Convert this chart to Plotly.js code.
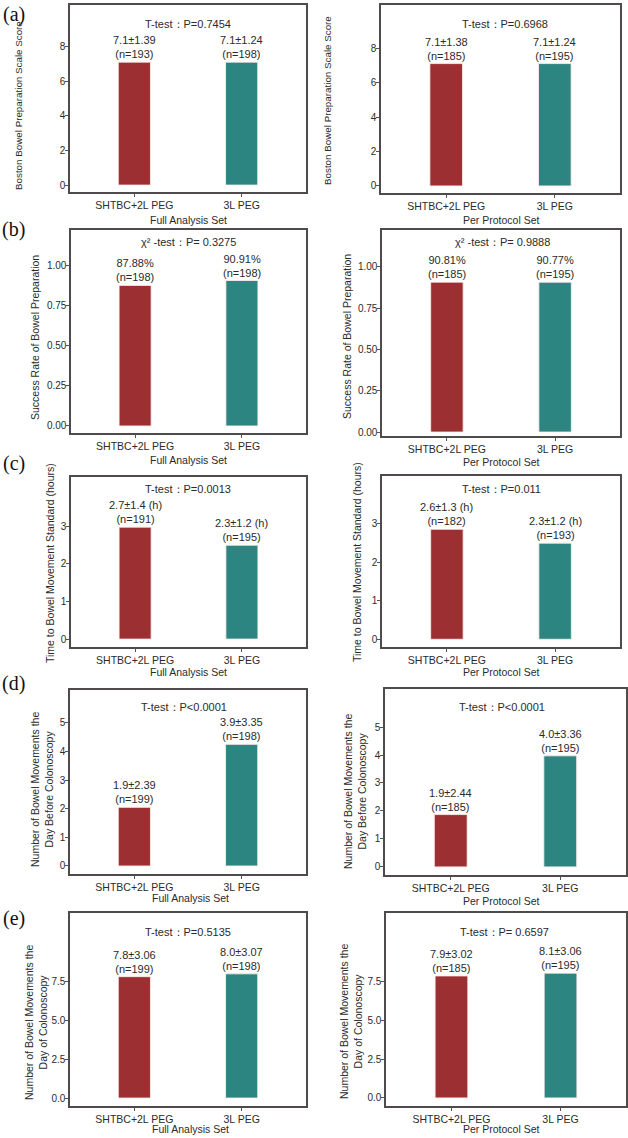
<!DOCTYPE html>
<html>
<head>
<meta charset="utf-8">
<script src="https://cdn.plot.ly/plotly-3.0.1.min.js"></script>
<style>html,body{margin:0;padding:0;background:#fff;}#chart{width:628px;height:1138px;}</style>
</head>
<body>
<div id="chart"></div>
<script>
// ---- data ----
const categories = ['SHTBC+2L PEG', '3L PEG'];

const bbpsFAS = [7.1, 7.1];
const bbpsPPS = [7.1, 7.1];
const bbpsFASLabels = ['7.1±1.39', '7.1±1.24'];
const bbpsPPSLabels = ['7.1±1.38', '7.1±1.24'];
const bbpsFASN = ['(n=193)', '(n=198)'];
const bbpsPPSN = ['(n=185)', '(n=195)'];

const successFAS = [0.8788, 0.9091];
const successPPS = [0.9081, 0.9077];
const successFASLabels = ['87.88%', '90.91%'];
const successPPSLabels = ['90.81%', '90.77%'];
const successFASN = ['(n=198)', '(n=198)'];
const successPPSN = ['(n=185)', '(n=195)'];

const timeFAS = [2.97, 2.49];
const timePPS = [2.85, 2.49];
const timeFASLabels = ['2.7±1.4 (h)', '2.3±1.2 (h)'];
const timePPSLabels = ['2.6±1.3 (h)', '2.3±1.2 (h)'];
const timeFASN = ['(n=191)', '(n=195)'];
const timePPSN = ['(n=182)', '(n=193)'];

const beforeFAS = [2.05, 4.25];
const beforePPS = [1.87, 3.97];
const beforeFASLabels = ['1.9±2.39', '3.9±3.35'];
const beforePPSLabels = ['1.9±2.44', '4.0±3.36'];
const beforeFASN = ['(n=199)', '(n=198)'];
const beforePPSN = ['(n=185)', '(n=195)'];

const dayFAS = [7.78, 7.96];
const dayPPS = [7.85, 8.03];
const dayFASLabels = ['7.8±3.06', '8.0±3.07'];
const dayPPSLabels = ['7.9±3.02', '8.1±3.06'];
const dayFASN = ['(n=199)', '(n=198)'];
const dayPPSN = ['(n=185)', '(n=195)'];

const testTexts = ['T-test：P=0.7454', 'T-test：P=0.6968', 'χ² -test：P= 0.3275', 'χ² -test：P= 0.9888',
  'T-test：P=0.0013', 'T-test：P=0.011', 'T-test：P&lt;0.0001', 'T-test：P&lt;0.0001',
  'T-test：P=0.5135', 'T-test：P= 0.6597'];
const setNames = ['Full Analysis Set', 'Per Protocol Set'];
const yTitles = ['Boston Bowel Preparation Scale Score', 'Success Rate of Bowel Preparation',
  'Time to Bowel Movement Standard (hours)', 'Number of Bowel Movements the<br>Day Before Colonoscopy',
  'Number of Bowel Movements the<br>Day of Colonoscopy'];
const yTitleSizes = [9.8, 10.5, 10.5, 10.5, 10.5];
const panelLetters = ['(a)', '(b)', '(c)', '(d)', '(e)'];
const yTickVals = [[0, 2, 4, 6, 8], [0, 0.25, 0.5, 0.75, 1], [0, 1, 2, 3], [0, 1, 2, 3, 4, 5], [0, 2.5, 5, 7.5]];
const yTickText = [['0', '2', '4', '6', '8'], ['0.00', '0.25', '0.50', '0.75', '1.00'], ['0', '1', '2', '3'],
  ['0', '1', '2', '3', '4', '5'], ['0.0', '2.5', '5.0', '7.5']];

// ---- layout geometry (pixels) ----
const W = 628, H = 1138;
const panels = [
  {v: bbpsFAS, l: bbpsFASLabels, n: bbpsFASN, row: 0, col: 0, box: [70, 306, 5, 192], yr: [-0.4, 10.4], yt: [18, 106], test: [188, 24], xt: [188, 220]},
  {v: bbpsPPS, l: bbpsPPSLabels, n: bbpsPPSN, row: 0, col: 1, box: [381, 620, 5, 193], yr: [-0.41, 10.5], yt: [328, 101], test: [505, 24], xt: [501, 220]},
  {v: successFAS, l: successFASLabels, n: successFASN, row: 1, col: 0, box: [71, 306, 230, 433], yr: [-0.044, 1.225], yt: [35, 338], test: [188, 242], xt: [188, 460]},
  {v: successPPS, l: successPPSLabels, n: successPPSN, row: 1, col: 1, box: [382, 620, 230, 436], yr: [-0.024, 1.224], yt: [347, 337], test: [502, 242], xt: [501, 462]},
  {v: timeFAS, l: timeFASLabels, n: timeFASN, row: 2, col: 0, box: [71, 306, 477, 647], yr: [-0.21, 4.3], yt: [50, 563], test: [188, 489], xt: [188, 672]},
  {v: timePPS, l: timePPSLabels, n: timePPSN, row: 2, col: 1, box: [382, 620, 476, 647], yr: [-0.2, 4.23], yt: [357, 562], test: [501, 489], xt: [501, 672]},
  {v: beforeFAS, l: beforeFASLabels, n: beforeFASN, row: 3, col: 0, box: [70, 306, 690, 874], yr: [-0.28, 6.15], yt: [42, 790], test: [184, 707], xt: [190, 898]},
  {v: beforePPS, l: beforePPSLabels, n: beforePPSN, row: 3, col: 1, box: [385, 626, 689, 875], yr: [-0.29, 6.36], yt: [355, 792], test: [502, 707], xt: [501, 901]},
  {v: dayFAS, l: dayFASLabels, n: dayFASN, row: 4, col: 0, box: [70, 306, 913, 1106], yr: [-0.51, 11.86], yt: [36, 1023], test: [188, 932], xt: [190, 1129]},
  {v: dayPPS, l: dayPPSLabels, n: dayPPSN, row: 4, col: 1, box: [386, 626, 913, 1106], yr: [-0.52, 11.9], yt: [351, 1022], test: [504, 932], xt: [501, 1129]}
];
const letterPos = [[14, 15], [14, 230], [14, 463], [14, 683], [14, 918]];

const barColors = ['#9b2f32', '#2d8582'];
const boxColor = '#4f4b4b';
const textColor = '#2b2b2b';
const FONT = 'Liberation Sans, Arial, sans-serif';

const data = [];
const layout = {
  width: W, height: H,
  margin: {l: 0, r: 0, t: 0, b: 0},
  paper_bgcolor: '#fff', plot_bgcolor: '#fff',
  showlegend: false,
  font: {family: FONT, size: 11, color: textColor},
  annotations: []
};

function px(x) { return x / W; }
function py(y) { return 1 - y / H; }

panels.forEach((p, i) => {
  const k = i + 1;
  const xa = 'x' + (k === 1 ? '' : k);
  const ya = 'y' + (k === 1 ? '' : k);
  data.push({
    type: 'bar', x: categories, y: p.v, xaxis: xa, yaxis: ya, width: 0.3,
    marker: {color: barColors, line: {color: 'rgba(255,235,235,0.85)', width: 1}},
    hoverinfo: 'none'
  });
  const [L, R, T, B] = p.box;
  layout['xaxis' + (k === 1 ? '' : k)] = {
    domain: [px(L), px(R)], anchor: ya, type: 'category', range: [-0.6, 1.6],
    showline: true, mirror: true, linecolor: boxColor, linewidth: 1.6,
    ticks: 'outside', ticklen: 3, tickcolor: '#555', tickwidth: 1,
    showgrid: false, zeroline: false, fixedrange: true,
    tickfont: {size: 10.5, color: textColor, family: FONT}
  };
  layout['yaxis' + (k === 1 ? '' : k)] = {
    domain: [py(B), py(T)], anchor: xa, range: p.yr,
    tickvals: yTickVals[p.row], ticktext: yTickText[p.row],
    showline: true, mirror: true, linecolor: boxColor, linewidth: 1.6,
    ticks: 'outside', ticklen: 3, tickcolor: '#555', tickwidth: 1,
    ticklabelstandoff: -2,
    showgrid: false, zeroline: false, fixedrange: true,
    tickfont: {size: 10, color: textColor, family: FONT}
  };
  categories.forEach((c, j) => {
    layout.annotations.push({
      xref: xa, yref: ya, x: c, y: p.v[j], yanchor: 'bottom', xanchor: 'center',
      text: p.l[j] + '<br>' + p.n[j], showarrow: false, yshift: 0,
      font: {size: 11, color: textColor, family: FONT}
    });
  });
  layout.annotations.push({
    xref: 'paper', yref: 'paper', x: px(p.test[0]), y: py(p.test[1]), xanchor: 'center', yanchor: 'middle',
    text: testTexts[i], showarrow: false, font: {size: 11, color: textColor, family: FONT}
  });
  layout.annotations.push({
    xref: 'paper', yref: 'paper', x: px(p.yt[0]), y: py(p.yt[1]), xanchor: 'center', yanchor: 'middle',
    text: yTitles[p.row], textangle: -90, showarrow: false,
    font: {size: yTitleSizes[p.row], color: textColor, family: FONT}
  });
  layout.annotations.push({
    xref: 'paper', yref: 'paper', x: px(p.xt[0]), y: py(p.xt[1]), xanchor: 'center', yanchor: 'middle',
    text: setNames[p.col], showarrow: false,
    font: {size: 10.5, color: textColor, family: FONT}
  });
});

panelLetters.forEach((t, r) => {
  layout.annotations.push({
    xref: 'paper', yref: 'paper', x: px(letterPos[r][0]), y: py(letterPos[r][1]), xanchor: 'center', yanchor: 'middle',
    text: t, showarrow: false, font: {size: 20, color: '#111', family: 'Liberation Serif, Times New Roman, serif'}
  });
});

Plotly.newPlot('chart', data, layout, {staticPlot: true, displayModeBar: false});
</script>
</body>
</html>
